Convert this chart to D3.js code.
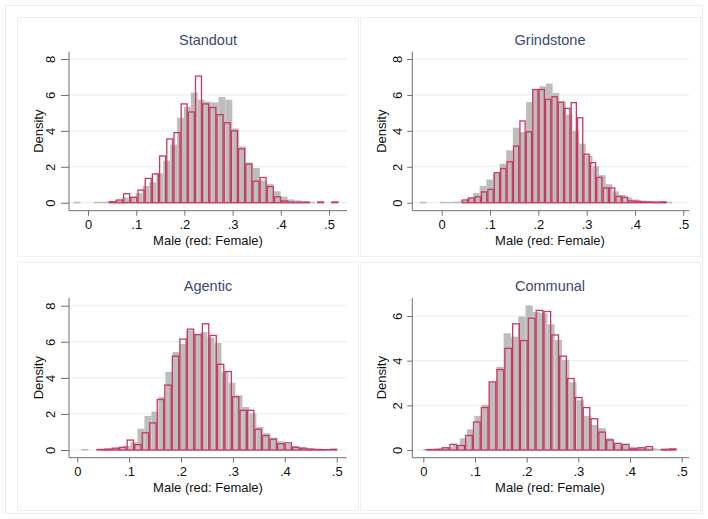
<!DOCTYPE html>
<html lang="en">
<head>
  <meta charset="UTF-8">
  <title>histograms</title>
  <script src="https://cdn.jsdelivr.net/npm/d3@7"></script>
  <style>
    body { margin: 0; background: #fff; }
    text { font-family: "Liberation Sans", Arial, sans-serif; }
  </style>
</head>
<body>
  <svg width="708" height="519"></svg>
  <script>
    // ---- data ----
    var titles = ['Standout', 'Grindstone', 'Agentic', 'Communal']
    var xTickValues = [0, 0.1, 0.2, 0.3, 0.4, 0.5]
    var yTicks8 = [0, 2, 4, 6, 8]
    var yTicks6 = [0, 2, 4, 6]

    // bins: [first edge, width]
    var standoutMaleBins = [-0.03, 0.01432]
    var standoutMale = [0.02, 0, 0, 0.02, 0.02, 0.05, 0.1, 0.25, 0.3, 0.5, 0.9, 1.1, 1.6, 2.3, 3.2, 4.7, 5.3, 6.1, 5.7, 5.6, 5.55, 5.85, 5.7, 4.1, 3.1, 2.2, 1.9, 1.2, 1.0, 0.6, 0.3, 0.15, 0.1, 0.05, 0.02]
    var standoutFemaleBins = [0.043, 0.0149]
    var standoutFemale = [0.05, 0.15, 0.5, 0.3, 0.7, 1.35, 1.6, 2.6, 3.55, 3.9, 5.5, 5.05, 7.05, 5.5, 5.3, 4.9, 4.45, 4.0, 3.0, 2.15, 1.2, 1.4, 0.9, 0.33, 0.1, 0.03, 0.02, 0.03, 0, 0.04, 0, 0.04]

    var grindMaleBins = [-0.045, 0.01373]
    var grindMale = [0.02, 0, 0, 0.02, 0.01, 0.03, 0.08, 0.25, 0.5, 0.9, 1.26, 1.6, 2.13, 2.88, 4.14, 3.9, 5.57, 6.3, 6.45, 6.6, 6.08, 5.6, 4.88, 3.95, 3.25, 2.6, 2.0, 1.5, 1.0, 0.6, 0.4, 0.25, 0.15, 0.08, 0.05, 0.03, 0.02, 0.02]
    var grindFemaleBins = [0.0414, 0.01325]
    var grindFemale = [0.15, 0.26, 0.33, 0.6, 0.74, 1.67, 1.9, 2.28, 3.15, 4.55, 3.95, 6.3, 6.3, 5.75, 5.9, 5.6, 5.25, 5.57, 4.73, 2.7, 2.23, 1.41, 0.82, 0.82, 0.35, 0.3, 0.1, 0.08, 0.05, 0.04, 0.03, 0.05]

    var agenticMaleBins = [0.008, 0.01349]
    var agenticMale = [0.02, 0, 0, 0.02, 0.05, 0.1, 0.2, 0.4, 1.15, 1.85, 2.1, 2.9, 4.3, 5.4, 5.85, 6.6, 6.4, 6.5, 6.2, 5.9, 4.3, 3.7, 3.0, 2.35, 2.0, 1.25, 0.9, 0.65, 0.45, 0.3, 0.2, 0.12, 0.06, 0.03, 0.02]
    var agenticFemaleBins = [0.037, 0.0145]
    var agenticFemale = [0.03, 0.05, 0.1, 0.15, 0.55, 0.3, 0.95, 1.5, 2.8, 3.6, 5.2, 6.15, 6.7, 6.4, 7.0, 6.35, 4.75, 4.35, 2.95, 2.2, 2.2, 1.15, 0.8, 0.6, 0.35, 0.4, 0.15, 0.1, 0.05, 0.03, 0.02, 0.04]

    var communalMaleBins = [0, 0.01412]
    var communalMale = [0.02, 0.02, 0.05, 0.1, 0.2, 0.5, 0.9, 1.5, 2.0, 3.0, 3.7, 5.2, 5.05, 5.95, 6.45, 6.15, 6.1, 5.6, 4.9, 4.0, 3.0, 2.2, 1.5, 1.1, 0.95, 0.5, 0.25, 0.2, 0.12, 0.1, 0.05, 0.05, 0.02, 0.03]
    var communalFemaleBins = [0.005, 0.01516]
    var communalFemale = [0.02, 0.03, 0.1, 0.25, 0.2, 0.65, 1.25, 1.9, 3.05, 3.6, 4.55, 5.65, 4.9, 5.9, 6.25, 6.2, 5.15, 4.2, 3.2, 2.35, 1.9, 1.4, 0.8, 0.45, 0.3, 0.25, 0.05, 0.1, 0.15, 0, 0.03, 0.05]

    // ---- layout ----
    var panels = [
      { title: titles[0], male: standoutMale, mBins: standoutMaleBins, female: standoutFemale, fBins: standoutFemaleBins,
        box: [17, 17, 341, 239], x: [88, 329], xAxis: [69, 347], y: [202.7, 59], yMax: 8, yAxis: [51.7, 210.7], yTicks: yTicks8, cx: 208, lab: 19, tick: 8 },
      { title: titles[1], male: grindMale, mBins: grindMaleBins, female: grindFemale, fBins: grindFemaleBins,
        box: [360, 17, 340, 239], x: [441.7, 683.3], xAxis: [412.3, 689.3], y: [202.7, 59], yMax: 8, yAxis: [51.7, 210.7], yTicks: yTicks8, cx: 550, lab: 14.5, tick: 5 },
      { title: titles[2], male: agenticMale, mBins: agenticMaleBins, female: agenticFemale, fBins: agenticFemaleBins,
        box: [17, 262, 341, 248], x: [77.3, 336.7], xAxis: [69, 346.7], y: [450, 305.7], yMax: 8, yAxis: [297.7, 457.7], yTicks: yTicks8, cx: 208, lab: 19, tick: 8 },
      { title: titles[3], male: communalMale, mBins: communalMaleBins, female: communalFemale, fBins: communalFemaleBins,
        box: [360, 262, 340, 248], x: [423.3, 681.7], xAxis: [412.3, 689.3], y: [450, 316], yMax: 6, yAxis: [297.7, 457.7], yTicks: yTicks6, cx: 550, lab: 14.5, tick: 5 }
    ]

    var svg = d3.select('svg')
    var grey = '#bdbdbd'
    var red = '#c8385f'
    var gridColor = '#e4eef0'
    var axisColor = '#707070'

    svg.append('rect')
      .attr('x', 5.5).attr('y', 5.5).attr('width', 697).attr('height', 508)
      .attr('fill', '#fff').attr('stroke', '#e9eff1')

    function toBins(vals, def) {
      return vals.map((v, i) => ({ x0: def[0] + i * def[1], x1: def[0] + (i + 1) * def[1], v: v }))
    }

    function fmt(d) {
      return d === 0 ? '0' : d3.format('.1f')(d).replace(/^0/, '')
    }

    panels.forEach(p => {
      var g = svg.append('g')
      g.append('rect')
        .attr('x', p.box[0] + 0.5).attr('y', p.box[1] + 0.5)
        .attr('width', p.box[2]).attr('height', p.box[3])
        .attr('fill', '#fff').attr('stroke', '#eaf1f2')

      var x = d3.scaleLinear().domain([0, 0.5]).range(p.x)
      var y = d3.scaleLinear().domain([0, p.yMax]).range(p.y)

      // grid
      g.append('g')
        .selectAll('line')
        .data(p.yTicks)
        .enter()
        .append('line')
        .attr('x1', p.xAxis[0]).attr('x2', p.xAxis[1])
        .attr('y1', d => y(d)).attr('y2', d => y(d))
        .attr('stroke', gridColor)

      // male bars (grey, filled)
      g.append('g')
        .selectAll('rect')
        .data(toBins(p.male, p.mBins).filter(d => d.v > 0))
        .enter()
        .append('rect')
        .attr('x', d => x(d.x0))
        .attr('width', d => x(d.x1) - x(d.x0))
        .attr('y', d => y(d.v) - 0.6)
        .attr('height', d => y(0) - y(d.v) + 1.2)
        .attr('fill', grey)

      // female bars (red outline)
      g.append('g')
        .selectAll('rect')
        .data(toBins(p.female, p.fBins).filter(d => d.v > 0))
        .enter()
        .append('rect')
        .attr('x', d => x(d.x0) + 0.6)
        .attr('width', d => x(d.x1) - x(d.x0) - 1.2)
        .attr('y', d => y(d.v))
        .attr('height', d => y(0) - y(d.v))
        .attr('fill', 'none')
        .attr('stroke', red)
        .attr('stroke-width', 1.3)

      // x axis
      var xa = g.append('g')
        .attr('transform', `translate(0,${p.yAxis[1]})`)
        .call(d3.axisBottom(x).tickValues(xTickValues).tickFormat(fmt).tickSize(5).tickPadding(4))
      xa.select('.domain').attr('d', `M${p.xAxis[0]},0H${p.xAxis[1]}`).attr('stroke', axisColor)
      xa.selectAll('.tick line').attr('stroke', axisColor)
      xa.selectAll('text').attr('font-size', 13).attr('fill', '#111')
        .attr('font-family', '"Liberation Sans", Arial, sans-serif')

      // y axis
      var ya = g.append('g')
        .attr('transform', `translate(${p.xAxis[0]},0)`)
        .call(d3.axisLeft(y).tickValues(p.yTicks).tickFormat(d3.format('d')).tickSize(p.tick))
      ya.select('.domain').attr('d', `M0,${p.yAxis[0]}V${p.yAxis[1]}`).attr('stroke', axisColor)
      ya.selectAll('.tick line').attr('stroke', axisColor)
      ya.selectAll('text')
        .attr('font-size', 13).attr('fill', '#111')
        .attr('font-family', '"Liberation Sans", Arial, sans-serif')
        .attr('transform', 'rotate(-90)')
        .attr('x', 0).attr('y', -p.lab).attr('dy', '0.35em')
        .attr('text-anchor', 'middle')

      // titles
      g.append('text')
        .attr('x', p.cx).attr('y', p.yAxis[0] - 7)
        .attr('text-anchor', 'middle')
        .attr('font-size', 14.5)
        .attr('fill', '#3a4870')
        .text(p.title)

      g.append('text')
        .attr('x', p.cx).attr('y', p.yAxis[1] + 34)
        .attr('text-anchor', 'middle')
        .attr('font-size', 13)
        .attr('fill', '#111')
        .text('Male (red: Female)')

      var cy = (p.yAxis[0] + p.yAxis[1]) / 2
      g.append('text')
        .attr('transform', `translate(${p.xAxis[0] - 31 + 4.5},${cy}) rotate(-90)`)
        .attr('text-anchor', 'middle')
        .attr('font-size', 13)
        .attr('fill', '#111')
        .text('Density')
    })
  </script>
</body>
</html>
